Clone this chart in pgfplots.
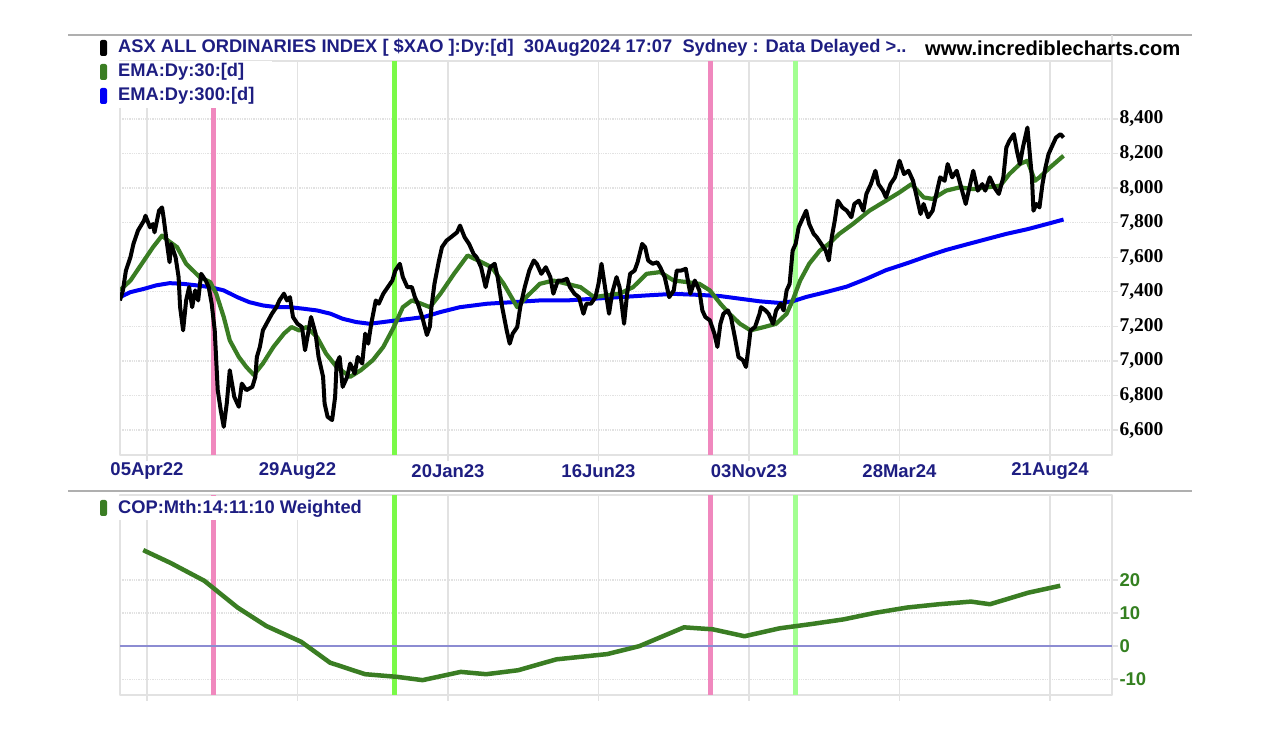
\documentclass[border=0pt]{standalone}
\usepackage{pgfplots}
\pgfplotsset{compat=1.18}
\usepackage{fontspec}
\setmainfont{Liberation Sans}
\newfontfamily\serifb{Liberation Serif}
\definecolor{navy}{RGB}{30,30,130}
\definecolor{emag}{RGB}{58,125,35}
\definecolor{emab}{RGB}{0,0,245}
\definecolor{pinkv}{RGB}{240,136,190}
\definecolor{greenv}{RGB}{122,250,72}
\definecolor{greenv2}{RGB}{162,255,145}
\definecolor{gridc}{RGB}{226,226,226}
\definecolor{copg}{RGB}{52,128,32}
\definecolor{zeroc}{RGB}{140,140,210}
\definecolor{sepc}{RGB}{175,175,175}

\begin{document}
\begin{tikzpicture}
\useasboundingbox (0pt,0pt) rectangle (1262pt,738pt);
\fill[white] (0pt,0pt) rectangle (1262pt,738pt);

% ---------------- top panel ----------------
\begin{axis}[
  at={(120pt,283pt)}, anchor=south west,
  scale only axis, width=992pt, height=394pt,
  xmin=-17.94, xmax=641.2, ymin=6456, ymax=8735,
  xtick={0,100,...,600},
  xticklabels={05Apr22,29Aug22,20Jan23,16Jun23,03Nov23,28Mar24,21Aug24},
  ytick={6600,6800,...,8400},
  scaled y ticks=false,
  ytick pos=right, yticklabel pos=right, xtick pos=bottom,
  xmajorgrids, ymajorgrids,
  x grid style={gridc, line width=1.6pt},
  y grid style={gridc, line width=1.3pt, densely dotted},
  axis line style={draw=gridc, line width=1.4pt},
  tick style={draw=gridc, line width=1.4pt},
  tick align=outside, major tick length=6pt,
  /pgf/number format/assume math mode=true,
  /pgf/number format/1000 sep={,},
  yticklabel style={font=\serifb\bfseries\fontsize{19.5}{19.5}\selectfont, text=black, anchor=west, xshift=-2pt},
  xticklabel style={font=\bfseries\fontsize{18.5}{18.5}\selectfont, text=navy, anchor=center, yshift=-10pt},
  line join=round,
]
\addplot[pinkv, line width=5pt] coordinates {(43.9,6456) (43.9,8735)};
\addplot[greenv, line width=5pt] coordinates {(164.5,6456) (164.5,8735)};
\addplot[pinkv, line width=5pt] coordinates {(374.3,6456) (374.3,8735)};
\addplot[greenv2, line width=5pt] coordinates {(430.8,6456) (430.8,8735)};
% EMA 300
\addplot[emab, line width=4pt] coordinates {
(-18,7369)(-11,7398)(-2,7417)(6,7437)(15,7450)(24,7446)(33,7437)(42,7427)(51,7408)(60,7369)(68,7340)(77,7321)(86,7311)(95,7311)(104,7302)(113,7292)(122,7273)(130,7244)(139,7225)(148,7215)(157,7225)(166,7235)(175,7244)(184,7254)(195,7283)(208,7311)(226,7331)(243,7340)(261,7350)(279,7350)(297,7360)(314,7369)(332,7379)(350,7388)(367,7382)(381,7375)(394,7360)(407,7345)(421,7335)(429,7345)(438,7370)(452,7400)(465,7430)(478,7475)(491,7525)(505,7565)(518,7605)(531,7642)(545,7675)(558,7705)(571,7735)(585,7762)(598,7792)(609,7818)};
% EMA 30
\addplot[emag, line width=4.2pt] coordinates {
(-18,7408)(-11,7465)(-2,7581)(4,7658)(10,7725)(14,7696)(20,7658)(26,7562)(35,7485)(42,7456)(46,7389)(51,7254)(55,7119)(61,7023)(66,6965)(71,6919)(77,6985)(84,7081)(91,7158)(96,7196)(101,7177)(106,7196)(113,7138)(119,7042)(126,6965)(135,6908)(142,6946)(150,7004)(157,7081)(164,7196)(170,7311)(176,7350)(181,7335)(188,7311)(195,7389)(204,7504)(213,7610)(220,7581)(229,7542)(237,7446)(246,7311)(252,7369)(261,7446)(270,7465)(279,7446)(288,7427)(297,7369)(305,7379)(314,7389)(323,7427)(332,7504)(341,7514)(350,7465)(359,7456)(367,7446)(374,7408)(381,7331)(387,7273)(394,7215)(401,7177)(410,7196)(418,7215)(425,7273)(429,7350)(434,7465)(440,7562)(447,7638)(453,7677)(460,7735)(469,7792)(480,7869)(491,7927)(500,7975)(508,8023)(516,7946)(522,7937)(531,7985)(540,8004)(549,7994)(558,8004)(567,8014)(573,8081)(580,8139)(585,8158)(590,8042)(593,8062)(600,8119)(609,8187)};
% price
\addplot[black, line width=4pt] coordinates {
(-18,7350)(-16,7408)(-14,7523)(-11,7600)(-9,7677)(-6,7754)(-2,7812)(-1,7840)(2,7773)(4,7792)(5,7744)(8,7869)(10,7888)(11,7831)(13,7696)(15,7571)(16,7677)(19,7600)(21,7485)(22,7311)(24,7177)(26,7350)(28,7427)(30,7311)(32,7408)(34,7350)(36,7504)(39,7465)(41,7427)(43,7331)(45,7177)(47,6831)(49,6715)(51,6619)(53,6754)(55,6946)(58,6792)(61,6735)(63,6869)(66,6831)(70,6850)(72,6908)(73,7023)(75,7081)(77,7177)(80,7225)(83,7273)(86,7311)(88,7350)(91,7389)(93,7350)(95,7369)(97,7254)(100,7215)(103,7196)(105,7062)(107,7158)(109,7254)(112,7158)(114,7023)(117,6908)(118,6754)(120,6677)(123,6658)(125,6792)(126,6985)(128,7023)(130,6850)(133,6908)(135,6985)(138,6927)(140,7023)(143,6985)(145,7158)(147,7100)(149,7215)(152,7350)(154,7331)(157,7389)(160,7427)(163,7465)(165,7523)(168,7562)(170,7485)(173,7427)(176,7427)(178,7369)(180,7331)(183,7250)(186,7150)(188,7200)(189,7311)(191,7446)(194,7581)(196,7658)(199,7696)(202,7716)(206,7744)(208,7783)(211,7716)(214,7677)(217,7619)(219,7600)(222,7542)(225,7427)(228,7542)(231,7562)(233,7485)(236,7311)(239,7177)(241,7100)(243,7158)(246,7196)(248,7311)(251,7427)(254,7523)(257,7581)(259,7562)(262,7504)(265,7542)(268,7485)(270,7389)(273,7465)(276,7465)(279,7475)(281,7427)(284,7389)(287,7369)(290,7273)(292,7331)(295,7331)(298,7369)(300,7446)(302,7562)(304,7446)(307,7273)(309,7389)(312,7485)(314,7427)(317,7215)(319,7389)(321,7504)(324,7523)(326,7571)(329,7677)(331,7658)(333,7581)(336,7562)(339,7571)(341,7542)(344,7485)(347,7369)(350,7408)(352,7523)(355,7523)(358,7533)(361,7389)(364,7465)(367,7408)(369,7292)(371,7254)(374,7235)(377,7158)(379,7081)(381,7215)(383,7273)(386,7292)(388,7254)(391,7119)(393,7023)(396,7004)(398,6965)(400,7100)(401,7177)(404,7196)(407,7273)(408,7311)(411,7292)(413,7273)(416,7215)(418,7292)(421,7331)(423,7292)(425,7408)(427,7446)(429,7638)(431,7677)(433,7773)(436,7831)(438,7869)(440,7792)(443,7735)(445,7716)(448,7677)(451,7638)(453,7581)(455,7716)(457,7812)(459,7927)(462,7888)(465,7869)(468,7831)(470,7908)(473,7927)(476,7869)(478,7966)(481,8023)(484,8100)(486,8023)(489,7985)(491,7946)(494,8023)(497,8062)(500,8158)(503,8081)(506,8100)(509,8042)(511,7966)(514,7850)(516,7908)(519,7831)(522,7869)(525,7985)(527,8062)(530,8042)(532,8139)(535,8062)(538,8100)(541,8004)(544,7908)(546,7985)(549,8100)(552,7985)(555,8023)(557,7985)(560,8062)(563,8004)(566,7966)(569,8062)(571,8235)(573,8273)(576,8312)(578,8215)(580,8139)(582,8235)(585,8350)(586,8254)(588,8062)(589,7869)(591,7908)(593,7888)(595,8023)(597,8119)(599,8196)(602,8254)(604,8292)(607,8312)(609,8292)};
\end{axis}

% ---------------- bottom panel ----------------
\begin{axis}[
  at={(120pt,43pt)}, anchor=south west,
  scale only axis, width=992pt, height=200pt,
  xmin=-17.94, xmax=641.2, ymin=-14.8, ymax=45.8,
  xtick={0,100,...,600}, xticklabels={},
  ytick={-10,0,10,20},
  ytick pos=right, yticklabel pos=right, xtick pos=bottom,
  xmajorgrids, ymajorgrids,
  x grid style={gridc, line width=1.6pt},
  y grid style={gridc, line width=1.3pt, densely dotted},
  axis line style={draw=gridc, line width=1.4pt},
  tick style={draw=gridc, line width=1.4pt},
  tick align=outside, major tick length=6pt,
  /pgf/number format/assume math mode=true,
  yticklabel style={font=\bfseries\fontsize{18.5}{18.5}\selectfont, text=copg, anchor=west, xshift=-2pt},
  line join=round,
]
\addplot[pinkv, line width=5pt] coordinates {(43.9,-14.8) (43.9,45.8)};
\addplot[greenv, line width=5pt] coordinates {(164.5,-14.8) (164.5,45.8)};
\addplot[pinkv, line width=5pt] coordinates {(374.3,-14.8) (374.3,45.8)};
\addplot[greenv2, line width=5pt] coordinates {(430.8,-14.8) (430.8,45.8)};
\addplot[zeroc, line width=1.8pt] coordinates {(-17.94,0) (641.2,0)};
\addplot[emag, line width=4.5pt] coordinates {
(-2.5,29.1)(15.7,25.2)(38.1,19.8)(60.2,11.7)(79.3,6.1)(102.5,1.3)(121.6,-5.0)(144.9,-8.5)(166.1,-9.3)(183.1,-10.3)(208.5,-7.8)(225.4,-8.5)(246.6,-7.3)(272,-4.0)(305.9,-2.4)(327.1,0)(356.8,5.7)(375.9,5.1)(397,3.0)(420.3,5.4)(441.5,6.7)(462.7,8.1)(483.9,10.1)(505.1,11.7)(526.2,12.7)(547.5,13.5)(560.1,12.7)(585.6,16.2)(606.8,18.3)};
\end{axis}

% ---------------- decorations & legends ----------------
\draw[sepc, line width=2pt] (68pt,703pt) -- (1192pt,703pt);
\draw[sepc, line width=2pt] (68pt,247pt) -- (1192pt,247pt);
\draw[gridc, line width=1.4pt] (1112pt,703pt) -- (1112pt,677pt);
% white boxes behind legends
\fill[white] (95pt,630pt) rectangle (272pt,677pt);
\fill[white] (95pt,218pt) rectangle (376pt,242pt);

\fill[black, rounded corners=2pt] (100pt,682pt) rectangle (107pt,698pt);
\fill[emag, rounded corners=2pt] (100pt,658pt) rectangle (107pt,674pt);
\fill[emab, rounded corners=2pt] (100pt,634pt) rectangle (107pt,650pt);
\fill[emag, rounded corners=2pt] (100pt,222pt) rectangle (107pt,238pt);

\node[anchor=west, inner sep=0pt, text=navy, font=\bfseries\fontsize{18.3}{18.3}\selectfont] at (118pt,690pt)
  {ASX ALL ORDINARIES INDEX [ \$XAO ]:Dy:[d]~~30Aug2024 17:07~~Sydney : Data Delayed >..};
\node[anchor=west, inner sep=0pt, text=black, font=\bfseries\fontsize{20.2}{20.2}\selectfont] at (925pt,690pt)
  {www.incrediblecharts.com};
\node[anchor=west, inner sep=0pt, text=navy, font=\bfseries\fontsize{18.3}{18.3}\selectfont] at (118pt,666pt) {EMA:Dy:30:[d]};
\node[anchor=west, inner sep=0pt, text=navy, font=\bfseries\fontsize{18.3}{18.3}\selectfont] at (118pt,642pt) {EMA:Dy:300:[d]};
\node[anchor=west, inner sep=0pt, text=navy, font=\bfseries\fontsize{18.3}{18.3}\selectfont] at (118pt,229pt) {COP:Mth:14:11:10 Weighted};
\end{tikzpicture}
\end{document}
